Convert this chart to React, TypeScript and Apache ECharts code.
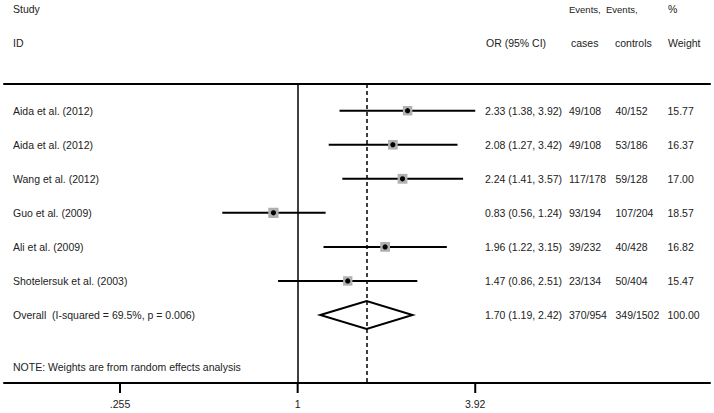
import React, { useEffect, useRef } from "react";
import * as echarts from "echarts";

const studies = [
  "Aida et al. (2012)",
  "Aida et al. (2012)",
  "Wang et al. (2012)",
  "Guo et al. (2009)",
  "Ali et al. (2009)",
  "Shotelersuk et al. (2003)",
];
const oddsRatios = [2.33, 2.08, 2.24, 0.83, 1.96, 1.47];
const ciLower = [1.38, 1.27, 1.41, 0.56, 1.22, 0.86];
const ciUpper = [3.92, 3.42, 3.57, 1.24, 3.15, 2.51];
const eventsCases = ["49/108", "49/108", "117/178", "93/194", "39/232", "23/134"];
const eventsControls = ["40/152", "53/186", "59/128", "107/204", "40/428", "50/404"];
const weights = [15.77, 16.37, 17.0, 18.57, 16.82, 15.47];

const overallLabel = "Overall  (I-squared = 69.5%, p = 0.006)";
const overallOR = 1.7;
const overallLower = 1.19;
const overallUpper = 2.42;
const overallCases = "370/954";
const overallControls = "349/1502";
const overallWeight = 100.0;

const tickValues = [0.255, 1, 3.92];
const tickLabels = [".255", "1", "3.92"];

const noteText = "NOTE: Weights are from random effects analysis";

const FONT = '"Liberation Sans", Arial, sans-serif';
const FS = 10.5;
const TXT = "#222";

export default function App() {
  const ref = useRef<HTMLDivElement>(null);

  useEffect(() => {
    if (!ref.current) return;
    const chart = echarts.init(ref.current, null, { renderer: "svg" });

    const ln = Math.log;
    const fmt = (v: number) => v.toFixed(2);
    const nStudies = studies.length;

    // kind 0 = study, kind 1 = overall diamond
    const markData = studies.map((_, i) => [
      i + 1,
      ln(oddsRatios[i]),
      ln(ciLower[i]),
      ln(ciUpper[i]),
      weights[i],
      0,
    ]);
    markData.push([nStudies + 1, ln(overallOR), ln(overallLower), ln(overallUpper), overallWeight, 1]);

    const rowsText = studies.map((s, i) => ({
      row: i + 1,
      cols: [
        s,
        `${fmt(oddsRatios[i])} (${fmt(ciLower[i])}, ${fmt(ciUpper[i])})`,
        eventsCases[i],
        eventsControls[i],
        fmt(weights[i]),
      ],
    }));
    rowsText.push({
      row: nStudies + 1,
      cols: [
        overallLabel,
        `${fmt(overallOR)} (${fmt(overallLower)}, ${fmt(overallUpper)})`,
        overallCases,
        overallControls,
        fmt(overallWeight),
      ],
    });
    const colX = [13, 485, 569, 615.5, 667.5];

    const tickLn = tickValues.map((v) => ln(v));

    const txt = (text: string, x: number, y: number, fs: number = FS, align: string = "left") => ({
      type: "text",
      x,
      y,
      style: {
        text,
        fill: TXT,
        fontSize: fs,
        fontFamily: FONT,
        verticalAlign: "middle",
        align,
      },
    });

    const xMin = -2.259;
    const xMax = 3.172;
    const yMin = 0.216;
    const yMax = 8.997;

    chart.setOption({
      animation: false,
      grid: { left: 4, right: 4, top: 84, bottom: 30, outerBoundsMode: "none" },
      xAxis: [
        {
          type: "value",
          position: "bottom",
          min: xMin,
          max: xMax,
          splitLine: { show: false },
          axisLine: { show: true, onZero: false, lineStyle: { color: "#000", width: 2 } },
          axisTick: { show: false },
          axisLabel: { show: false },
        },
        {
          type: "value",
          position: "top",
          min: xMin,
          max: xMax,
          splitLine: { show: false },
          axisLine: { show: true, onZero: false, lineStyle: { color: "#000", width: 2 } },
          axisTick: { show: false },
          axisLabel: { show: false },
        },
      ],
      yAxis: { type: "value", inverse: true, min: yMin, max: yMax, show: false, splitLine: { show: false } },
      series: [
        {
          type: "custom",
          silent: true,
          clip: false,
          data: markData,
          encode: { x: [1, 2, 3], y: 0 },
          renderItem: (params: any, api: any) => {
            const row = api.value(0);
            const c = api.coord([api.value(1), row]);
            const l = api.coord([api.value(2), row]);
            const h = api.coord([api.value(3), row]);
            if (api.value(5) === 1) {
              const hh = 14;
              return {
                type: "polygon",
                shape: { points: [[l[0], l[1]], [c[0], c[1] - hh], [h[0], h[1]], [c[0], c[1] + hh]] },
                style: { stroke: "#000", lineWidth: 2, fill: "rgba(255,255,255,0)" },
              };
            }
            const side = 9.8 * Math.sqrt(api.value(4) / 17);
            return {
              type: "group",
              children: [
                { type: "line", shape: { x1: l[0], y1: l[1], x2: h[0], y2: h[1] }, style: { stroke: "#000", lineWidth: 2 } },
                {
                  type: "rect",
                  shape: { x: c[0] - side / 2, y: c[1] - side / 2, width: side, height: side },
                  style: { fill: "#b0b0b0" },
                },
                { type: "circle", shape: { cx: c[0], cy: c[1], r: 2.6 }, style: { fill: "#000" } },
              ],
            };
          },
          markLine: {
            silent: true,
            symbol: "none",
            label: { show: false },
            data: [
              { xAxis: 0, lineStyle: { color: "#000", width: 1.5, type: "solid" } },
              { xAxis: ln(overallOR), lineStyle: { color: "#000", width: 1.5, type: [4, 3] } },
            ],
          },
        },
        {
          type: "custom",
          silent: true,
          clip: false,
          data: tickLn.map((v, k) => [v, yMax, k]),
          encode: { x: 0, y: 1 },
          renderItem: (params: any, api: any) => {
            const p = api.coord([api.value(0), api.value(1)]);
            const k = api.value(2);
            return {
              type: "group",
              children: [
                { type: "line", shape: { x1: p[0], y1: p[1], x2: p[0], y2: p[1] + 10 }, style: { stroke: "#000", lineWidth: 2 } },
                { type: "text", x: p[0], y: p[1] + 21, style: { text: tickLabels[k], fill: TXT, fontSize: FS, fontFamily: FONT, align: "center", verticalAlign: "middle" } },
              ],
            };
          },
        },
      ],
    });

    const toPx = (v: number, y: number) =>
      chart.convertToPixel({ xAxisIndex: 0, yAxisIndex: 0 }, [v, y]) as number[];
    const a = toPx(xMin, yMax);
    const b = toPx(xMax, yMax);

    const rowGraphics: any[] = [];
    rowsText.forEach((r) => {
      const y = toPx(0, r.row)[1];
      r.cols.forEach((t, k) => rowGraphics.push(txt(t, colX[k], y)));
    });

    chart.setOption({
      graphic: [
        { type: "line", shape: { x1: a[0], y1: a[1], x2: b[0], y2: b[1] }, style: { stroke: "#000", lineWidth: 2 } },
        txt("Study", 13, 9),
        txt("ID", 13, 43),
        txt("OR (95% CI)", 486, 43),
        txt("Events,", 569, 9, 9.5),
        txt("cases", 571, 43),
        txt("Events,", 606, 9, 9.5),
        txt("controls", 615, 43),
        txt("%", 668, 9),
        txt("Weight", 668, 43),
        txt(noteText, 13, 367),
        ...rowGraphics,
      ],
    });

    return () => chart.dispose();
  }, []);

  return (
    <div ref={ref} style={{ position: "fixed", left: 0, top: 0, width: 714, height: 413, background: "#fff" }} />
  );
}
